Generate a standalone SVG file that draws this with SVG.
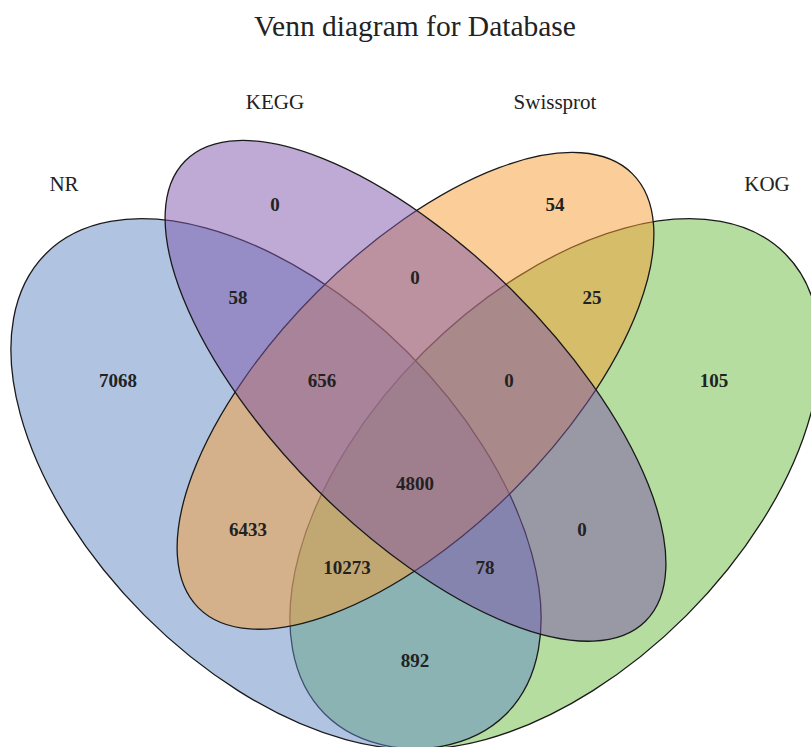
<svg xmlns="http://www.w3.org/2000/svg" width="811" height="747" viewBox="0 0 811 747">
<style>
.set{stroke:#1a1a1a;stroke-width:1.3;fill-opacity:0.5}
.title{font-family:"Liberation Serif","Times New Roman",serif;font-size:29.5px;fill:#222;text-anchor:middle}
.cat{font-family:"Liberation Serif","Times New Roman",serif;font-size:21px;fill:#222;text-anchor:middle}
.num{font-family:"Liberation Serif","Times New Roman",serif;font-size:19px;font-weight:bold;fill:#222;text-anchor:middle}
</style>
<rect width="811" height="747" fill="#ffffff"/>
<text class="title" x="415" y="36">Venn diagram for Database</text>
<g id="KOG"><ellipse class="set" cx="555" cy="483.85" rx="325.5" ry="186" fill="#6BBB41" transform="rotate(-45 555 483.85)"/></g>
<g id="NR"><ellipse class="set" cx="276" cy="483.85" rx="325.5" ry="186" fill="#6189C5" transform="rotate(45 276 483.85)"/></g>
<g id="Swissprot"><ellipse class="set" cx="415.5" cy="390.85" rx="306.9" ry="139.5" fill="#F79D33" transform="rotate(-45 415.5 390.85)"/></g>
<g id="KEGG"><ellipse class="set" cx="415.5" cy="390.85" rx="325.5" ry="139.5" fill="#7D55A9" transform="rotate(45 415.5 390.85)"/></g>
<g id="connectors"></g>
<g id="labels">
<text class="cat" x="64" y="191">NR</text>
<text class="cat" x="275" y="109">KEGG</text>
<text class="cat" x="555" y="109">Swissprot</text>
<text class="cat" x="767" y="191">KOG</text>
</g>
<g id="counts">
<text class="num" x="275" y="211">0</text>
<text class="num" x="555" y="211">54</text>
<text class="num" x="238" y="304">58</text>
<text class="num" x="415" y="284">0</text>
<text class="num" x="592" y="304">25</text>
<text class="num" x="118" y="387">7068</text>
<text class="num" x="322" y="387">656</text>
<text class="num" x="509" y="387">0</text>
<text class="num" x="714" y="387">105</text>
<text class="num" x="415" y="490">4800</text>
<text class="num" x="248" y="536">6433</text>
<text class="num" x="582" y="536">0</text>
<text class="num" x="347" y="574">10273</text>
<text class="num" x="485" y="574">78</text>
<text class="num" x="415" y="667">892</text>
</g>
</svg>
